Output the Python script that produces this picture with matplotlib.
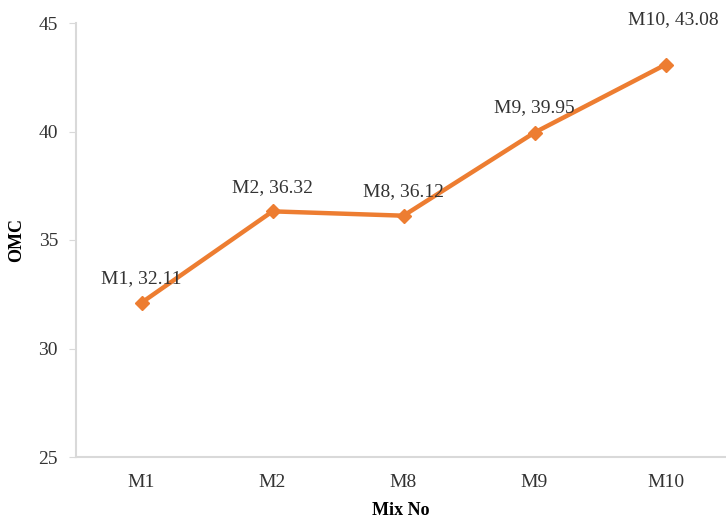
import matplotlib.pyplot as plt

mixes = ["M1", "M2", "M8", "M9", "M10"]
omc = [32.11, 36.32, 36.12, 39.95, 43.08]

plt.rcParams.update({
    "font.family": "Liberation Serif",
    "font.size": 13,
})

fig = plt.figure(figsize=(7.26, 5.22), dpi=100)
ax = fig.add_axes([76 / 726, 65 / 522, 650 / 726, 434 / 522])

x = list(range(len(mixes)))
ax.plot(x, omc, color="#ED7D31", linewidth=3.2, marker="D", markersize=7.5,
        markerfacecolor="#ED7D31", markeredgecolor="#ED7D31", zorder=3)

# label offsets in pixels; the last one sits higher near the top of the plot
offsets = [(0, 24), (0, 24), (0, 24), (0, 25), (8, 45)]
for xi, m, v, off in zip(x, mixes, omc, offsets):
    ax.annotate(f"{m}, {v:.2f}", (xi, v), xytext=off, textcoords="offset pixels",
                ha="center", va="center", fontsize=14, color="#333333")

ax.set_xlim(-0.5, -0.5 + 650 / 131)
ax.set_ylim(25, 45)
ax.set_yticks([25, 30, 35, 40, 45])
ax.set_xticks(x)
ax.set_xticklabels(mixes)

for side in ("top", "right"):
    ax.spines[side].set_visible(False)
for side in ("left", "bottom"):
    ax.spines[side].set_color("#D9D9D9")
    ax.spines[side].set_linewidth(1.5)

ax.tick_params(axis="y", length=5, color="#D9D9D9", labelsize=14, labelcolor="#333333", pad=8)
ax.tick_params(axis="x", length=0, labelsize=14, labelcolor="#333333", pad=12)

ax.set_ylabel("OMC", fontweight="bold", fontsize=13)
ax.yaxis.set_label_coords(-0.078, 0.5)
ax.set_xlabel("Mix No", fontweight="bold", fontsize=13)
ax.xaxis.set_label_coords(0.5, -0.104)

fig.savefig("out.png", dpi=100)
plt.close(fig)
